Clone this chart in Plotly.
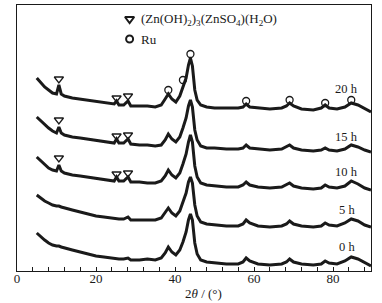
import plotly.graph_objects as go

# 2theta sampling points (degrees) shared by all patterns
two_theta = [5, 6, 7, 8, 9, 10, 10.6, 11.2, 12, 14,
             16, 18, 20, 22, 24, 24.6, 25.2, 25.8, 27, 28.1,
             28.8, 31, 33, 35, 36.5, 37.5, 38.3, 39.2, 40.2, 41.2,
             42, 42.8, 43.4, 43.9, 44.4, 45, 45.6, 46.5, 48, 50,
             53, 56, 57.2, 58, 58.9, 61, 64, 67, 68.2, 69,
             70, 72, 75, 77, 78, 79, 81, 83, 84.6, 86.3,
             88, 89.6]

# stacked intensities (a.u., offset included)
int_20h = [193, 188, 184, 181, 178, 177, 186, 177, 175, 173,
           172, 171, 170, 169, 168, 167, 170, 166, 166, 170,
           165, 165, 165, 164, 166, 172, 177, 172, 169, 175,
           184, 193, 206, 213, 205, 181, 171, 166, 164, 163,
           163, 163, 164, 167, 164, 163, 162, 163, 165, 168,
           165, 162, 161, 163, 166, 163, 162, 164, 168, 166,
           162, 159]
int_15h = [154, 150, 146, 143, 140, 138, 144, 138, 136, 134,
           133, 132, 131, 130, 129, 128, 132, 128, 128, 132,
           127, 126, 126, 125, 126, 131, 137, 132, 129, 134,
           143, 153, 165, 171, 164, 141, 131, 125, 123, 123,
           122, 122, 123, 126, 123, 122, 121, 122, 124, 126,
           123, 121, 120, 121, 123, 121, 120, 122, 126, 124,
           121, 119]
int_10h = [114, 110, 106, 103, 101, 100, 106, 100, 98, 96,
           95, 94, 93, 92, 91, 90, 94, 90, 90, 94,
           89, 89, 88, 88, 90, 95, 101, 96, 93, 98,
           107, 117, 129, 136, 129, 105, 94, 88, 86, 85,
           84, 84, 86, 89, 86, 84, 83, 84, 86, 88,
           85, 83, 82, 83, 86, 84, 83, 85, 90, 87,
           83, 81]
int_5h = [76, 73, 70, 68, 66, 65, 65, 64, 63, 61,
          59, 57, 55, 54, 53, 53, 52, 52, 52, 54,
          51, 51, 51, 51, 53, 58, 63, 58, 55, 60,
          68, 78, 89, 94, 88, 66, 55, 49, 47, 46,
          45, 45, 47, 51, 48, 45, 44, 45, 47, 50,
          47, 45, 44, 45, 48, 46, 45, 48, 52, 50,
          46, 44]
int_0h = [38, 34, 31, 28, 26, 25, 25, 24, 23, 21,
          19, 17, 15, 14, 13, 13, 12, 12, 12, 13,
          11, 11, 12, 11, 13, 18, 24, 19, 16, 21,
          29, 39, 51, 57, 51, 28, 17, 11, 9, 8,
          7, 7, 9, 13, 10, 7, 6, 7, 9, 12,
          9, 7, 6, 7, 10, 8, 7, 10, 14, 12,
          8, 5]

series_names = ["0 h", "5 h", "10 h", "15 h", "20 h"]
series_values = [int_0h, int_5h, int_10h, int_15h, int_20h]
label_x = [83.5, 83.5, 83.5, 83.5, 83.5]
label_y = [24, 61, 99, 134, 182]

# phase markers: (Zn(OH)2)3(ZnSO4)(H2O) peaks
zhs_x = [10.6, 25.2, 28.1]
zhs_y_10h = [113, 97, 98]
zhs_y_15h = [151, 135, 136]
zhs_y_20h = [192, 173, 175]
# Ru peaks (20 h pattern)
ru_x = [38.3, 42.0, 43.9, 58.0, 69.0, 78.0, 84.6]
ru_y = [181, 191, 217, 170, 171, 168, 171]

legend_x = 28.5
legend_y = [252, 232]
legend_text = ["(Zn(OH)<sub>2</sub>)<sub>3</sub>(ZnSO<sub>4</sub>)(H<sub>2</sub>O)", "Ru"]

x_ticks = [0, 20, 40, 60, 80]

FONT = "Liberation Serif"
INK = "#1a1a1a"

fig = go.Figure()
for name, vals in zip(series_names, series_values):
    fig.add_trace(go.Scatter(x=two_theta, y=vals, mode="lines", name=name,
                             line=dict(color=INK, width=3), showlegend=False))

for ys in (zhs_y_10h, zhs_y_15h, zhs_y_20h):
    fig.add_trace(go.Scatter(x=zhs_x, y=ys, mode="markers", showlegend=False,
                             marker=dict(symbol="triangle-down-open", size=8,
                                         color=INK, line=dict(width=1.3))))
fig.add_trace(go.Scatter(x=ru_x, y=ru_y, mode="markers", showlegend=False,
                         marker=dict(symbol="circle-open", size=7,
                                     color=INK, line=dict(width=1.3))))
# legend symbols
fig.add_trace(go.Scatter(x=[legend_x], y=[legend_y[0]], mode="markers", showlegend=False,
                         marker=dict(symbol="triangle-down-open", size=8, color=INK,
                                     line=dict(width=2))))
fig.add_trace(go.Scatter(x=[legend_x], y=[legend_y[1]], mode="markers", showlegend=False,
                         marker=dict(symbol="circle-open", size=7, color=INK,
                                     line=dict(width=2))))

annotations = []
for t, yy in zip(legend_text, legend_y):
    annotations.append(dict(x=legend_x + 2.3, y=yy, xref="x", yref="y", text=t,
                            showarrow=False, xanchor="left", yanchor="middle",
                            font=dict(family=FONT, size=13, color=INK)))
for name, lx, ly in zip(series_names, label_x, label_y):
    annotations.append(dict(x=lx, y=ly, xref="x", yref="y", text=name,
                            showarrow=False, xanchor="center", yanchor="middle",
                            font=dict(family=FONT, size=12.5, color=INK)))
annotations.append(dict(x=0.528, y=-0.083, xref="paper", yref="paper",
                        text="2<i>θ</i> / (°)", showarrow=False,
                        xanchor="center", yanchor="middle",
                        font=dict(family=FONT, size=13, color=INK)))

fig.update_layout(
    width=382, height=303,
    margin=dict(l=17, r=11, t=5, b=32),
    paper_bgcolor="white", plot_bgcolor="white",
    annotations=annotations,
    xaxis=dict(range=[0, 89.6], tickvals=x_ticks, ticks="inside", ticklen=4,
               tickwidth=1, tickcolor=INK, ticklabelstandoff=-5,
               minor=dict(dtick=4, ticks="inside", ticklen=4, tickwidth=1, tickcolor=INK),
               showline=True, linecolor=INK, linewidth=1, mirror=True,
               showgrid=False, zeroline=False, automargin=False,
               tickfont=dict(family=FONT, size=13, color=INK)),
    yaxis=dict(range=[0, 266], showticklabels=False, ticks="",
               showline=True, linecolor=INK, linewidth=1, mirror=True,
               showgrid=False, zeroline=False, automargin=False),
)

fig.write_html("out.html", config={"displayModeBar": False},
               post_script="document.body.style.margin='0';document.body.style.overflow='hidden';")
